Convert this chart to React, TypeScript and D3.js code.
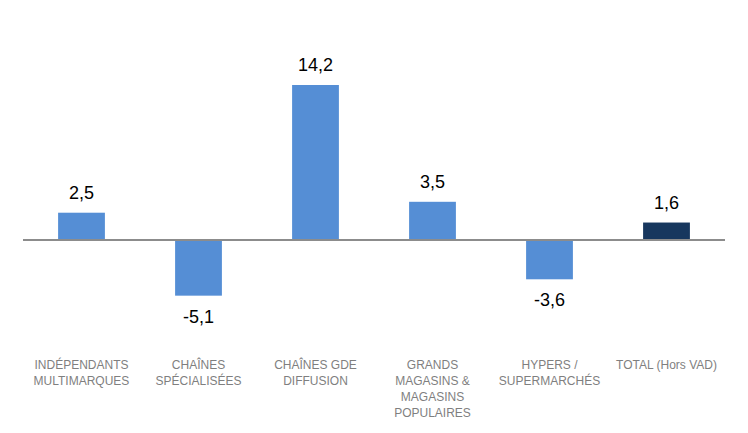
import React from "react";
import * as d3 from "d3";

const categories: string[][] = [
  ["INDÉPENDANTS", "MULTIMARQUES"],
  ["CHAÎNES", "SPÉCIALISÉES"],
  ["CHAÎNES GDE", "DIFFUSION"],
  ["GRANDS", "MAGASINS &", "MAGASINS", "POPULAIRES"],
  ["HYPERS /", "SUPERMARCHÉS"],
  ["TOTAL (Hors VAD)"],
];
const values: number[] = [2.5, -5.1, 14.2, 3.5, -3.6, 1.6];
const isTotal: boolean[] = [false, false, false, false, false, true];

const W = 748;
const H = 433;

export default function App() {
  const keys = values.map((_, i) => String(i));
  const x = d3.scaleBand<string>().domain(keys).range([23, 725]).paddingInner(0.6).paddingOuter(0.3);
  const y = d3.scaleLinear().domain([0, 14.2]).range([240, 85]);
  const fmt = (v: number) => v.toFixed(1).replace(".", ",");
  return (
    <svg width={W} height={H} style={{ position: "absolute", left: 0, top: 0 }}>
      <rect width={W} height={H} fill="#ffffff" />
      {values.map((v, i) => {
        const x0 = x(String(i))!;
        const top = Math.min(y(v), y(0));
        const h = Math.abs(y(v) - y(0));
        return (
          <rect key={i} x={x0} y={top} width={x.bandwidth()} height={h} fill={isTotal[i] ? "#17375E" : "#558ED5"} />
        );
      })}
      <line x1={23} x2={725} y1={y(0)} y2={y(0)} stroke="#8c8c8c" strokeWidth={2} />
      {values.map((v, i) => {
        const cx = x(String(i))! + x.bandwidth() / 2;
        const yy = v >= 0 ? y(v) - 14 : y(v) + 27;
        return (
          <text key={i} x={cx} y={yy} textAnchor="middle" fontFamily="Liberation Sans, Arial, sans-serif" fontSize={18} fill="#000">
            {fmt(v)}
          </text>
        );
      })}
      {categories.map((lines, i) => {
        const cx = x(String(i))! + x.bandwidth() / 2;
        return (
          <text key={i} textAnchor="middle" fontFamily="Liberation Sans, Arial, sans-serif" fontSize={12} fill="#7f7f7f">
            {lines.map((l, j) => (
              <tspan key={j} x={cx} y={369 + j * 16}>{l}</tspan>
            ))}
          </text>
        );
      })}
    </svg>
  );
}
